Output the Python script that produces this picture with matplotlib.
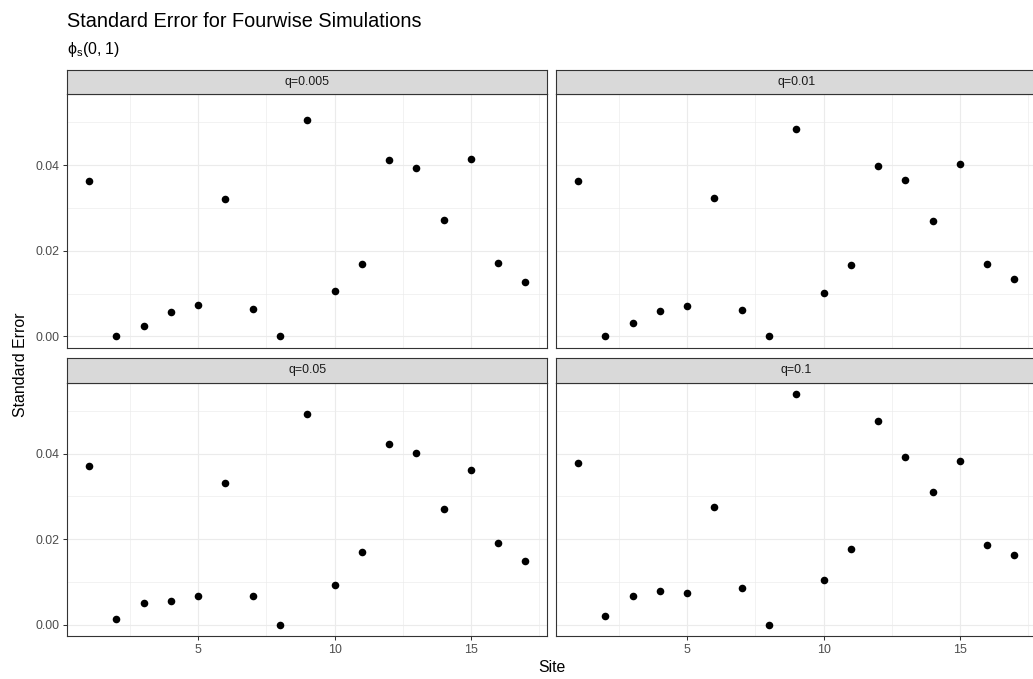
import matplotlib
matplotlib.use('Agg')
import matplotlib.pyplot as plt
from matplotlib.ticker import MultipleLocator

plt.rcParams['font.family'] = ['Liberation Sans', 'DejaVu Sans']
plt.rcParams['mathtext.fontset'] = 'custom'
plt.rcParams['mathtext.rm'] = 'Liberation Sans'
plt.rcParams['mathtext.it'] = 'Liberation Sans:italic'

# values
sites = [1, 2, 3, 4, 5, 6, 7, 8, 9, 10, 11, 12, 13, 14, 15, 16, 17]
se_q0005 = [0.0363, 0.0000, 0.0025, 0.0056, 0.0072, 0.0322, 0.0063, 0.0000, 0.0507,
            0.0106, 0.0168, 0.0412, 0.0394, 0.0271, 0.0414, 0.0172, 0.0128]
se_q001 = [0.0363, 0.0000, 0.0030, 0.0058, 0.0070, 0.0324, 0.0062, 0.0000, 0.0485,
           0.0101, 0.0166, 0.0399, 0.0366, 0.0269, 0.0403, 0.0168, 0.0133]
se_q005 = [0.0370, 0.0014, 0.0051, 0.0055, 0.0068, 0.0332, 0.0068, 0.0000, 0.0493,
           0.0093, 0.0171, 0.0423, 0.0402, 0.0270, 0.0362, 0.0192, 0.0149]
se_q01 = [0.0378, 0.0021, 0.0068, 0.0079, 0.0074, 0.0275, 0.0085, 0.0000, 0.0539,
          0.0105, 0.0177, 0.0476, 0.0393, 0.0311, 0.0382, 0.0187, 0.0163]
panel_labels = ['q=0.005', 'q=0.01', 'q=0.05', 'q=0.1']
panel_values = [se_q0005, se_q001, se_q005, se_q01]

W, H = 1033, 679
fig = plt.figure(figsize=(W / 100, H / 100), dpi=100)

# panel boxes in pixels: left, top, width, height
px_left = [67.3, 556.3]
px_top = [94.3, 382.7]
pw, ph = 480, 253.5
strip_h = 24.8

dark = '#333333'
grid = '#EBEBEB'

ymax = max(max(v) for v in panel_values)
pad = ymax * 0.05

for i, (lab, vals) in enumerate(zip(panel_labels, panel_values)):
    r, c = divmod(i, 2)
    x0 = px_left[c] / W
    y0 = 1 - (px_top[r] + ph) / H
    ax = fig.add_axes([x0, y0, pw / W, ph / H])
    ax.scatter(sites, vals, s=30, color='black', zorder=3, linewidths=0)
    ax.set_xlim(1 - 0.8, 17 + 0.8)
    ax.set_ylim(-pad, ymax + pad)
    ax.xaxis.set_major_locator(MultipleLocator(5))
    ax.xaxis.set_minor_locator(MultipleLocator(2.5))
    ax.yaxis.set_major_locator(MultipleLocator(0.02))
    ax.yaxis.set_minor_locator(MultipleLocator(0.01))
    ax.yaxis.set_major_formatter(plt.FuncFormatter(lambda v, p: f'{v:.2f}'))
    ax.grid(which='major', color=grid, linewidth=0.85)
    ax.grid(which='minor', color=grid, linewidth=0.45)
    ax.set_axisbelow(True)
    ax.tick_params(which='minor', length=0)
    ax.tick_params(which='major', length=3.2, width=0.75, color=dark,
                   labelsize=8.9, labelcolor='#4D4D4D', pad=2.3)
    for s in ax.spines.values():
        s.set_color(dark)
        s.set_linewidth(0.8)
    if c == 1:
        ax.tick_params(axis='y', labelleft=False, length=0)
    if r == 0:
        ax.tick_params(axis='x', labelbottom=False, length=0)

    sax = fig.add_axes([x0, 1 - px_top[r] / H, pw / W, strip_h / H])
    sax.set_facecolor('#D9D9D9')
    sax.set_xticks([])
    sax.set_yticks([])
    for s in sax.spines.values():
        s.set_color(dark)
        s.set_linewidth(0.8)
    sax.text(0.5, 0.5, lab, ha='center', va='center', fontsize=8.9,
             color='#1A1A1A', transform=sax.transAxes)

fig.text(67 / W, 1 - 27 / H, 'Standard Error for Fourwise Simulations',
         fontsize=14.3, color='black', ha='left', va='baseline')
fig.text(67 / W, 1 - 54 / H, r'$\mathregular{\phi_s}$(0, 1)',
         fontsize=11.4, color='black', ha='left', va='baseline')
fig.text(20.7 / W, 1 - 365 / H, 'Standard Error', rotation=90,
         fontsize=11.4, ha='center', va='center')
fig.text(551.8 / W, 1 - 668 / H, 'Site', fontsize=11.4, ha='center', va='center')

fig.savefig('out.png', dpi=100)
